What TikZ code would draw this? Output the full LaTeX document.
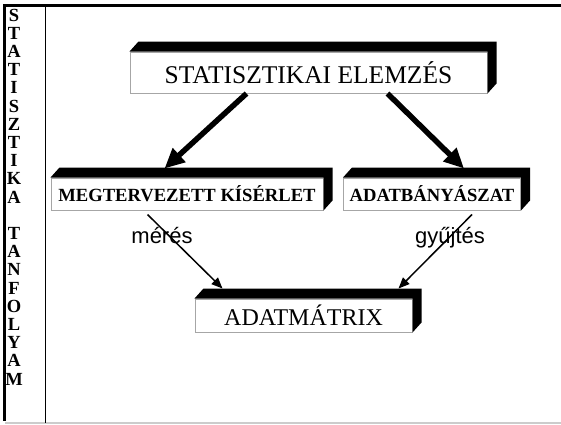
\documentclass[tikz,border=0pt]{standalone}
\usepackage{fontspec}
\setmainfont{Liberation Serif}
\newfontfamily\arialfont{Liberation Sans}
\usetikzlibrary{arrows.meta}
\tikzset{
  frontbox/.style={draw=gray!70, line width=1pt, fill=white, inner sep=0pt},
  bigtitle/.style={font=\fontsize{25.5}{28}\selectfont},
  midtitle/.style={font=\fontsize{24}{28}\selectfont},
  boldtitle/.style={font=\fontsize{18.6}{22}\selectfont\bfseries},
  sidelabel/.style={font=\fontsize{18.5}{18}\selectfont\bfseries, anchor=base},
  edgelabel/.style={font=\arialfont\fontsize{22}{24}\selectfont, anchor=base},
  thickarrow/.style={line width=5.5pt, -{Triangle[length=20pt,width=18pt]}},
  thinarrow/.style={line width=1.5pt, -{Triangle[length=11pt,width=9pt]}},
}
\newcommand{\boxshade}[1]{%
  \fill[black] (#1.north west) -- ([shift={(9,-10)}]#1.north west)
    -- ([shift={(9,-10)}]#1.north east) -- ([shift={(9,-10)}]#1.south east)
    -- (#1.south east) -- (#1.north east) -- cycle;}
\begin{document}
\begin{tikzpicture}[x=1pt,y=-1pt]
\useasboundingbox (0,0) rectangle (561,424);
\fill[white] (0,0) rectangle (561,424);
% frame
\draw[gray!40, line width=1.5pt] (5,423) -- (561,423);
\draw[black, line width=1pt] (45,5) -- (45,423);
\draw[black, line width=3pt] (4,4) -- (4,421);
\draw[black, line width=3pt] (3,5) -- (561,5);
% side letters
\foreach \l [count=\i from 0] in {S,T,A,T,I,S,Z,T,I,K,A}
  \node[sidelabel] (sa\i) at (14,21+18.2*\i) {\l};
\foreach \l [count=\i from 12] in {T,A,N,F,O,L,Y,A,M}
  \node[sidelabel] (sb\i) at (14,21+18.2*\i) {\l};
% boxes
\node[frontbox, bigtitle, minimum width=357pt, minimum height=41pt] (b1) at (308.5,72.5) {STATISZTIKAI ELEMZÉS};
\boxshade{b1}
\node[frontbox, boldtitle, minimum width=272pt, minimum height=32pt] (b2) at (187,194) {MEGTERVEZETT KÍSÉRLET};
\boxshade{b2}
\node[frontbox, boldtitle, minimum width=177pt, minimum height=32pt] (b3) at (432,194) {ADATBÁNYÁSZAT};
\boxshade{b3}
\node[frontbox, midtitle, minimum width=217pt, minimum height=33pt] (b4) at (303.5,315.5) {ADATMÁTRIX};
\boxshade{b4}
% labels
\node[edgelabel] (lm) at (162,243) {mérés};
\node[edgelabel] (lg) at (450,243) {gyűjtés};
% thick arrows
\draw[thickarrow] ([xshift=117pt]b1.south west) -- ([xshift=114pt,yshift=9pt]b2.north west);
\draw[thickarrow] ([xshift=258pt]b1.south west) -- ([xshift=121pt,yshift=9pt]b3.north west);
% thin arrows
\coordinate (s1) at ([xshift=97pt,yshift=-4pt]b2.south west);
\coordinate (s2) at ([xshift=129pt,yshift=-4pt]b3.south west);
\draw[thinarrow] (s1) -- ([xshift=28pt,yshift=10pt]b4.north west);
\draw[thinarrow] (s2) -- ([xshift=-14pt,yshift=10pt]b4.north east);
\end{tikzpicture}
\end{document}
